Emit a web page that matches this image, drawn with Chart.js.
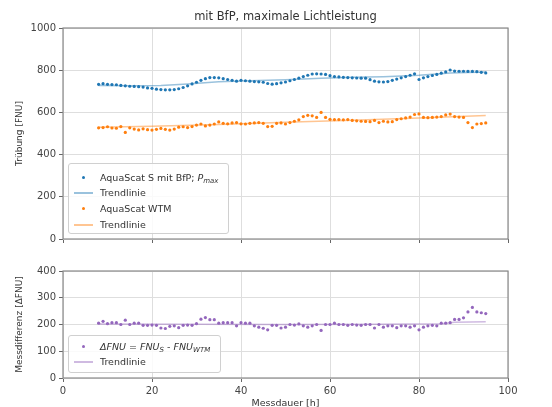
<!DOCTYPE html>
<html>
<head>
<meta charset="utf-8">
<script src="https://cdn.jsdelivr.net/npm/chart.js@4"></script>
<style>
  html, body { margin: 0; padding: 0; background: #fff; }
  #wrap { position: relative; width: 552px; height: 407px; overflow: hidden; font-family: "DejaVu Sans", sans-serif; }
  .pane { position: absolute; left: 0; }
  .legend { position: absolute; background: rgba(255,255,255,0.85); border: 1px solid #d0d0d0; border-radius: 3px; font-size: 9.5px; color: #333; }
  .row { position: absolute; left: 0; right: 0; height: 14px; }
  .dot { position: absolute; width: 3px; height: 3px; border-radius: 50%; top: 5px; }
  .line { position: absolute; height: 1.5px; top: 6px; width: 19px; }
  .txt { position: absolute; left: 31px; top: 0; line-height: 14px; white-space: nowrap; }
  sub { font-size: 7px; vertical-align: -2px; line-height: 0; }
</style>
</head>
<body>
<div id="wrap">
  <div class="pane" style="top:0;width:552px;height:248px"><canvas id="topChart" width="552" height="248"></canvas></div>
  <div class="pane" style="top:246px;width:552px;height:170px"><canvas id="botChart" width="552" height="170"></canvas></div>

  <div class="legend" style="left:68px;top:163px;width:159px;height:69px">
    <div class="row" style="top:7px"><span class="dot" style="left:13px;background:#1f77b4"></span><span class="txt">AquaScat S mit BfP; <i>P</i><sub><i>max</i></sub></span></div>
    <div class="row" style="top:22px"><span class="line" style="left:5px;background:rgba(31,119,180,0.45)"></span><span class="txt">Trendlinie</span></div>
    <div class="row" style="top:38px"><span class="dot" style="left:13px;background:#ff7f0e"></span><span class="txt">AquaScat WTM</span></div>
    <div class="row" style="top:54px"><span class="line" style="left:5px;background:rgba(255,127,14,0.45)"></span><span class="txt">Trendlinie</span></div>
  </div>

  <div class="legend" style="left:68px;top:335px;width:151px;height:36px">
    <div class="row" style="top:4px"><span class="dot" style="left:13px;background:#9467bd"></span><span class="txt"><i>ΔFNU</i> = <i>FNU</i><sub><i>S</i></sub> - <i>FNU</i><sub><i>WTM</i></sub></span></div>
    <div class="row" style="top:19px"><span class="line" style="left:5px;background:rgba(148,103,189,0.45)"></span><span class="txt">Trendlinie</span></div>
  </div>
</div>

<script>
// Messdauer [h]
const hours = [8,9,10,11,12,13,14,15,16,17,18,19,20,21,22,23,24,25,26,27,28,29,30,31,32,33,34,35,36,37,38,39,40,41,42,43,44,45,46,47,48,49,50,51,52,53,54,55,56,57,58,59,60,61,62,63,64,65,66,67,68,69,70,71,72,73,74,75,76,77,78,79,80,81,82,83,84,85,86,87,88,89,90,91,92,93,94,95];

// AquaScat S mit BfP, Pmax [FNU]
const aquaS = [733,736,733,732,731,728,726,724,723,722,720,716,714,710,708,707,707,708,712,718,726,735,743,752,760,765,765,764,760,756,752,748,752,750,748,746,745,743,737,734,736,740,744,750,756,762,770,776,782,783,782,780,774,770,768,766,765,764,763,762,762,755,748,745,744,746,752,758,764,770,776,783,756,764,770,775,780,786,792,801,796,795,795,794,794,793,790,787];

// AquaScat WTM [FNU]
const aquaWTM = [527,528,532,526,525,533,505,527,521,517,522,518,516,520,524,520,516,521,530,532,528,533,540,545,536,540,545,555,548,546,550,552,546,545,548,550,552,548,533,534,548,550,545,552,558,565,580,586,584,576,600,576,567,566,566,565,566,562,560,558,557,556,562,552,558,555,556,566,570,574,578,590,593,576,575,576,578,580,588,592,580,578,576,552,528,545,547,550];

// Messdifferenz [ΔFNU]
const diffFNU = [205,212,203,207,207,200,216,200,205,205,197,197,198,197,187,185,193,195,188,197,198,197,203,220,226,218,218,205,207,207,207,195,207,205,205,195,190,186,180,197,197,187,190,200,198,202,195,190,195,200,178,200,200,205,200,200,197,200,198,197,200,200,187,200,190,195,195,188,195,195,190,195,180,190,195,197,195,205,205,207,219,219,225,247,264,247,244,241];

// Trendlinien
const trendSHours = [8,15,22,28,35,42,50,58,65,72,80,87,95];
const trendS = [727,726,728,735,745,750,755,762,766,769,776,787,792];
const trendWTMHours = [8,20,35,50,65,80,95];
const trendWTM = [530,534,543,553,563,574,585];
const trendDiffHours = [8,30,50,70,85,88,95];
const trendDiff = [202,201,200,201,203,208,210];

const TITLE = 'mit BfP, maximale Lichtleistung';

const pts = (xs, ys) => xs.map((x, i) => ({ x: x, y: ys[i] }));

const FONT = "'DejaVu Sans', sans-serif";
const GRID = '#dedede';
const TICKC = '#666';

// Rahmen um die Plotfläche
const frame = {
  id: 'frame',
  afterDraw(chart) {
    const a = chart.chartArea, c = chart.ctx;
    c.save();
    c.strokeStyle = '#8a8a8a';
    c.lineWidth = 1.2;
    c.strokeRect(a.left, a.top, a.right - a.left, a.bottom - a.top);
    c.restore();
  }
};

// Titel mittig über der Plotfläche (wie matplotlib)
const plotTitle = {
  id: 'plotTitle',
  afterDraw(chart, args, opts) {
    const a = chart.chartArea, c = chart.ctx;
    c.save();
    c.font = '11.5px ' + FONT;
    c.fillStyle = '#333';
    c.textAlign = 'center';
    c.textBaseline = 'middle';
    c.fillText(opts.text, (a.left + a.right) / 2, a.top - 11);
    c.restore();
  }
};

function xAxis(showTicks, h) {
  return {
    type: 'linear', min: 0, max: 100,
    afterFit: s => { s.height = h; },
    grid: { color: GRID, tickColor: TICKC, tickLength: 4 },
    border: { display: false },
    ticks: { display: showTicks, stepSize: 20, color: '#444', padding: 3, font: { family: FONT, size: 10 }, callback: v => String(v) },
    title: { display: showTicks, text: 'Messdauer [h]', color: '#333', padding: { top: 0, bottom: 7 }, font: { family: FONT, size: 9.5 } }
  };
}

function yAxis(max, step, label) {
  return {
    min: 0, max: max,
    afterFit: s => { s.width = 63; },
    grid: { color: GRID, tickColor: TICKC, tickLength: 4 },
    border: { display: false },
    ticks: { stepSize: step, color: '#444', padding: 3, font: { family: FONT, size: 10 }, callback: v => String(v) },
    title: { display: true, text: label, color: '#333', padding: { top: 14, bottom: 0 }, font: { family: FONT, size: 9 } }
  };
}

new Chart(document.getElementById('topChart'), {
  type: 'scatter',
  data: {
    datasets: [
      { data: pts(hours, aquaS), backgroundColor: '#1f77b4', pointRadius: 1.6, pointBorderWidth: 0 },
      { data: pts(trendSHours, trendS), showLine: true, borderColor: 'rgba(31,119,180,0.45)', borderWidth: 1.5, pointRadius: 0 },
      { data: pts(hours, aquaWTM), backgroundColor: '#ff7f0e', pointRadius: 1.6, pointBorderWidth: 0 },
      { data: pts(trendWTMHours, trendWTM), showLine: true, borderColor: 'rgba(255,127,14,0.45)', borderWidth: 1.5, pointRadius: 0 }
    ]
  },
  options: {
    responsive: false,
    animation: false,
    layout: { padding: { left: 0, right: 44, top: 28, bottom: 4 } },
    plugins: {
      legend: { display: false },
      tooltip: { enabled: false },
      plotTitle: { text: TITLE }
    },
    scales: { x: xAxis(false, 5), y: yAxis(1000, 200, 'Trübung [FNU]') }
  },
  plugins: [frame, plotTitle]
});

new Chart(document.getElementById('botChart'), {
  type: 'scatter',
  data: {
    datasets: [
      { data: pts(hours, diffFNU), backgroundColor: '#9467bd', pointRadius: 1.6, pointBorderWidth: 0 },
      { data: pts(trendDiffHours, trendDiff), showLine: true, borderColor: 'rgba(148,103,189,0.45)', borderWidth: 1.5, pointRadius: 0 }
    ]
  },
  options: {
    responsive: false,
    animation: false,
    layout: { padding: { left: 0, right: 44, top: 25, bottom: 0 } },
    plugins: { legend: { display: false }, tooltip: { enabled: false } },
    scales: { x: xAxis(true, 38), y: yAxis(400, 100, 'Messdifferenz [ΔFNU]') }
  },
  plugins: [frame]
});
</script>
</body>
</html>
